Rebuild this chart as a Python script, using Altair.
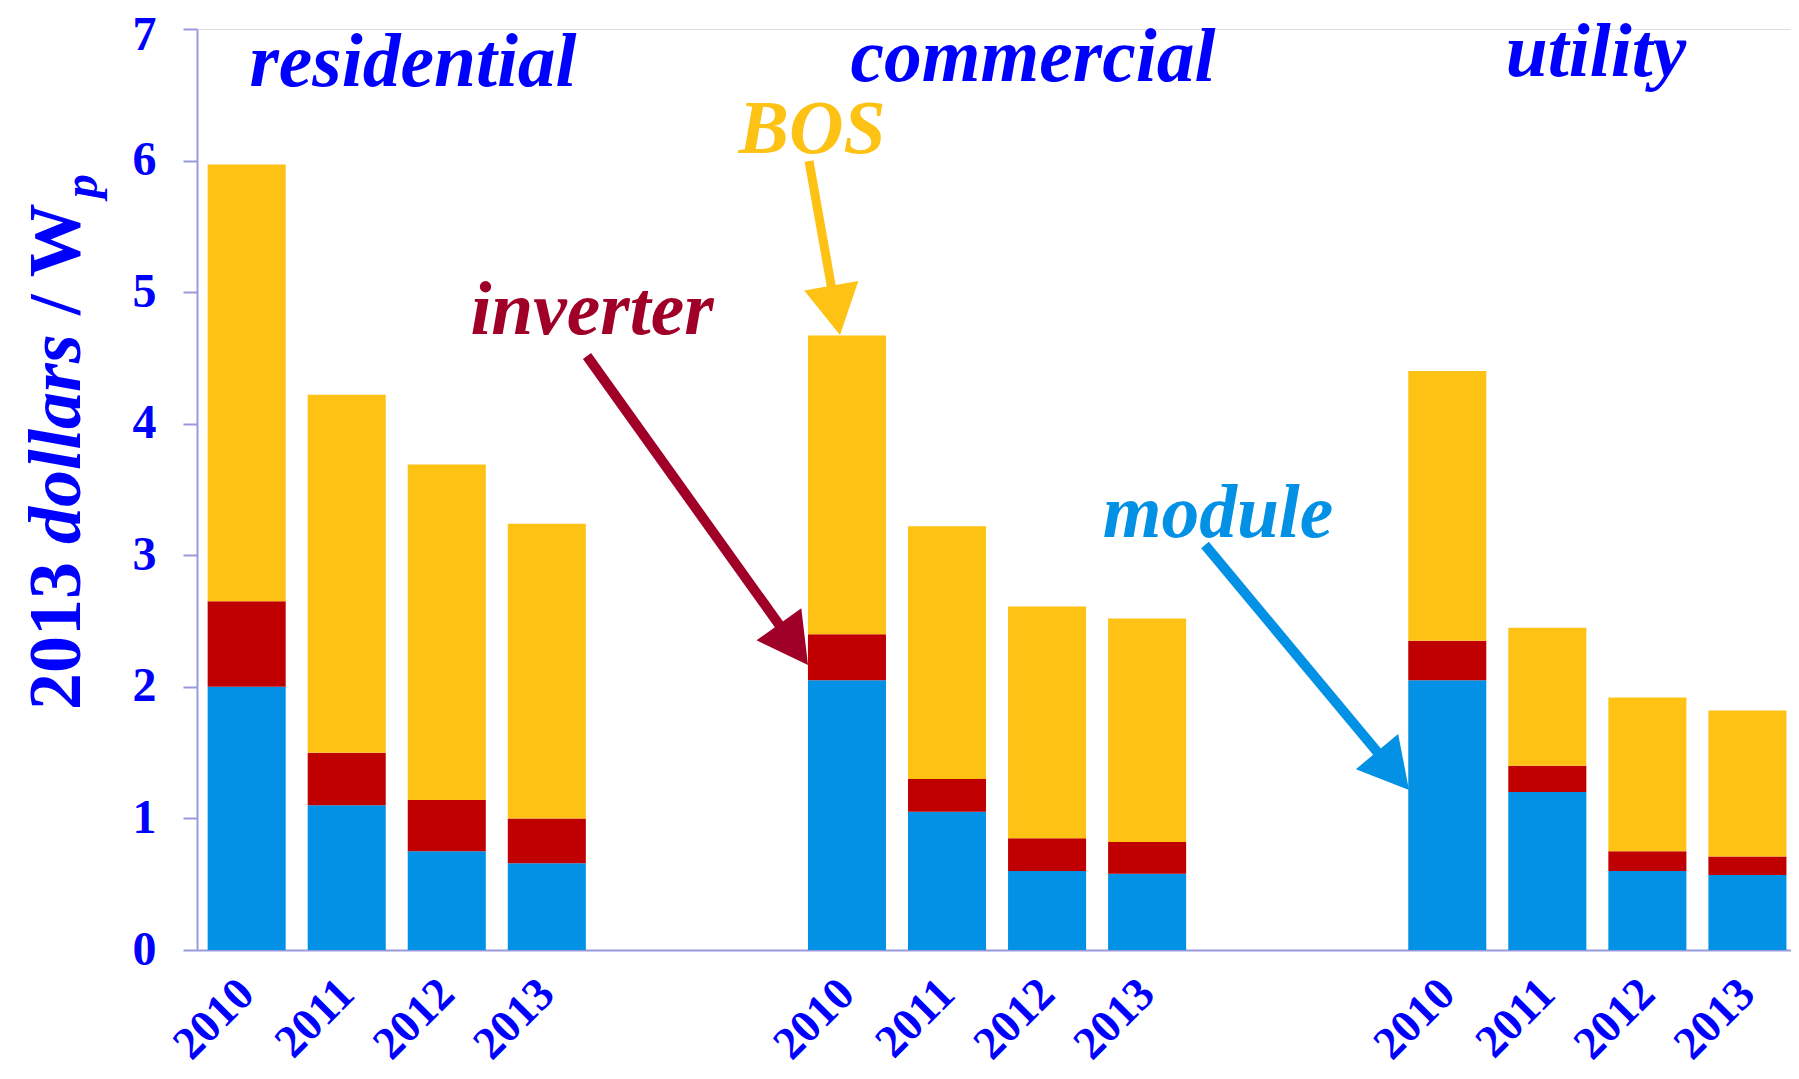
import math
import altair as alt
import pandas as pd

# ---- data ----
groups = ["residential", "commercial", "utility"]
years = ["2010", "2011", "2012", "2013"]
components = ["module", "inverter", "BOS"]
module = [2.00, 1.10, 0.75, 0.66, 2.05, 1.05, 0.60, 0.58, 2.05, 1.20, 0.60, 0.57]
inverter = [0.65, 0.40, 0.39, 0.34, 0.35, 0.25, 0.25, 0.24, 0.30, 0.20, 0.15, 0.14]
bos = [3.32, 2.72, 2.55, 2.24, 2.27, 1.92, 1.76, 1.70, 2.05, 1.05, 1.17, 1.11]
y_ticks = [0, 1, 2, 3, 4, 5, 6, 7]

# ---- styles ----
comp_colors = ["#0391E5", "#C00000", "#FDC214"]
BLUE = "#0000FF"
AXIS = "#9999DD"
INV_LABEL = "#A00028"
FONT = "Liberation Serif"

rows = []
for gi, g in enumerate(groups):
    for yi, yr in enumerate(years):
        i = gi * 4 + yi
        for ci, (c, vals) in enumerate(zip(components, [module, inverter, bos])):
            rows.append({"slot": f"{g} {yr}", "component": c, "ord": ci, "value": vals[i]})
df = pd.DataFrame(rows)

domain = []
for gi, g in enumerate(groups):
    domain += [f"{g} {yr}" for yr in years]
    if gi < len(groups) - 1:
        domain += [f"gap{gi}a", f"gap{gi}b"]

W, H = 1594, 921
X0, Y0 = 197, 29  # plot origin on page

bars = alt.Chart(df).mark_bar().encode(
    x=alt.X("slot:N", sort=domain,
            scale=alt.Scale(domain=domain, paddingInner=0.22, paddingOuter=0.076, align=0.7),
            axis=alt.Axis(title=None, labelAngle=-45, labelAlign="right", labelBaseline="middle",
                          labelFont=FONT, labelFontWeight="bold", labelFontSize=46,
                          labelColor=BLUE, labelPadding=36, ticks=False, tickSize=0,
                          domainColor=AXIS, domainWidth=2, labelOverlap=False, labelFlush=False,
                          labelExpr="indexof(datum.value, 'gap') == 0 ? '' : slice(datum.value, -4)")),
    y=alt.Y("value:Q", stack="zero",
            scale=alt.Scale(domain=[0, 7], nice=False),
            axis=alt.Axis(title=None, values=y_ticks, grid=False, tickSize=14, tickWidth=2,
                          tickColor=AXIS, domainColor=AXIS, domainWidth=2,
                          labelFont=FONT, labelFontWeight="bold", labelFontSize=48,
                          labelColor=BLUE, labelPadding=27, labelBaseline="middle",
                          labelOffset={"condition": {"test": "datum.value == 7", "value": 6}, "value": 0})),
    color=alt.Color("component:N", scale=alt.Scale(domain=components, range=comp_colors), legend=None),
    order=alt.Order("ord:Q", sort="ascending"),
)


def txt(t, x, y, color, size, style="italic", angle=0, align="center", baseline="alphabetic"):
    return alt.Chart(pd.DataFrame({"t": [t]})).mark_text(
        font=FONT, fontWeight="bold", fontStyle=style, fontSize=size, color=color,
        angle=angle, align=align, baseline=baseline,
    ).encode(x=alt.value(x - X0), y=alt.value(y - Y0), text="t:N")


def arrow(x1, y1, tx, ty, color, width=10, head_len=50):
    dx, dy = tx - x1, ty - y1
    d = math.hypot(dx, dy)
    ex, ey = tx - dx / d * head_len * 0.6, ty - dy / d * head_len * 0.6
    ang = math.degrees(math.atan2(dx, -dy)) % 360
    one = pd.DataFrame({"a": [0]})
    shaft = alt.Chart(one).mark_rule(color=color, strokeWidth=width).encode(
        x=alt.value(x1 - X0), y=alt.value(y1 - Y0), x2=alt.value(ex - X0), y2=alt.value(ey - Y0))
    head = alt.Chart(one).mark_point(
        shape="M0,0L0.55,1L-0.55,1Z", size=(head_len * 2) ** 2, angle=ang, filled=True,
        color=color, opacity=1, strokeWidth=0,
    ).encode(x=alt.value(tx - X0), y=alt.value(ty - Y0))
    return [shaft, head]


ANN = 75.5
layers = [bars]
# group titles
layers += [txt("residential", 413, 86, BLUE, ANN),
           txt("commercial", 1033, 81, BLUE, ANN),
           txt("utility", 1596, 76, BLUE, ANN)]
# component labels
layers += [txt("BOS", 812, 153, comp_colors[2], ANN),
           txt("inverter", 592, 334, INV_LABEL, ANN),
           txt("module", 1218, 537, comp_colors[0], ANN)]
# arrows
layers += arrow(809, 161, 840, 335, comp_colors[2], width=9)
layers += arrow(587, 356, 808, 665, INV_LABEL)
layers += arrow(1205, 545, 1409, 790, comp_colors[0])
# y axis title (mixed styles)
layers += [txt("2013", 80, 710, BLUE, 74, style="normal", angle=270, align="left"),
           txt("dollars", 80, 544, BLUE, 74, style="italic", angle=270, align="left"),
           txt("/ W", 80, 315, BLUE, 74, style="normal", angle=270, align="left"),
           txt("p", 97, 198, BLUE, 48, style="italic", angle=270, align="left")]

chart = alt.layer(*layers).properties(
    width=W, height=H,
    autosize=alt.AutoSizeParams(type="none"),
    padding={"left": X0 - 8, "top": Y0 - 8, "right": 0, "bottom": 121},
).configure_view(stroke=None).configure(background="white")

chart.save("out.html", embed_options={"renderer": "svg", "actions": False})
